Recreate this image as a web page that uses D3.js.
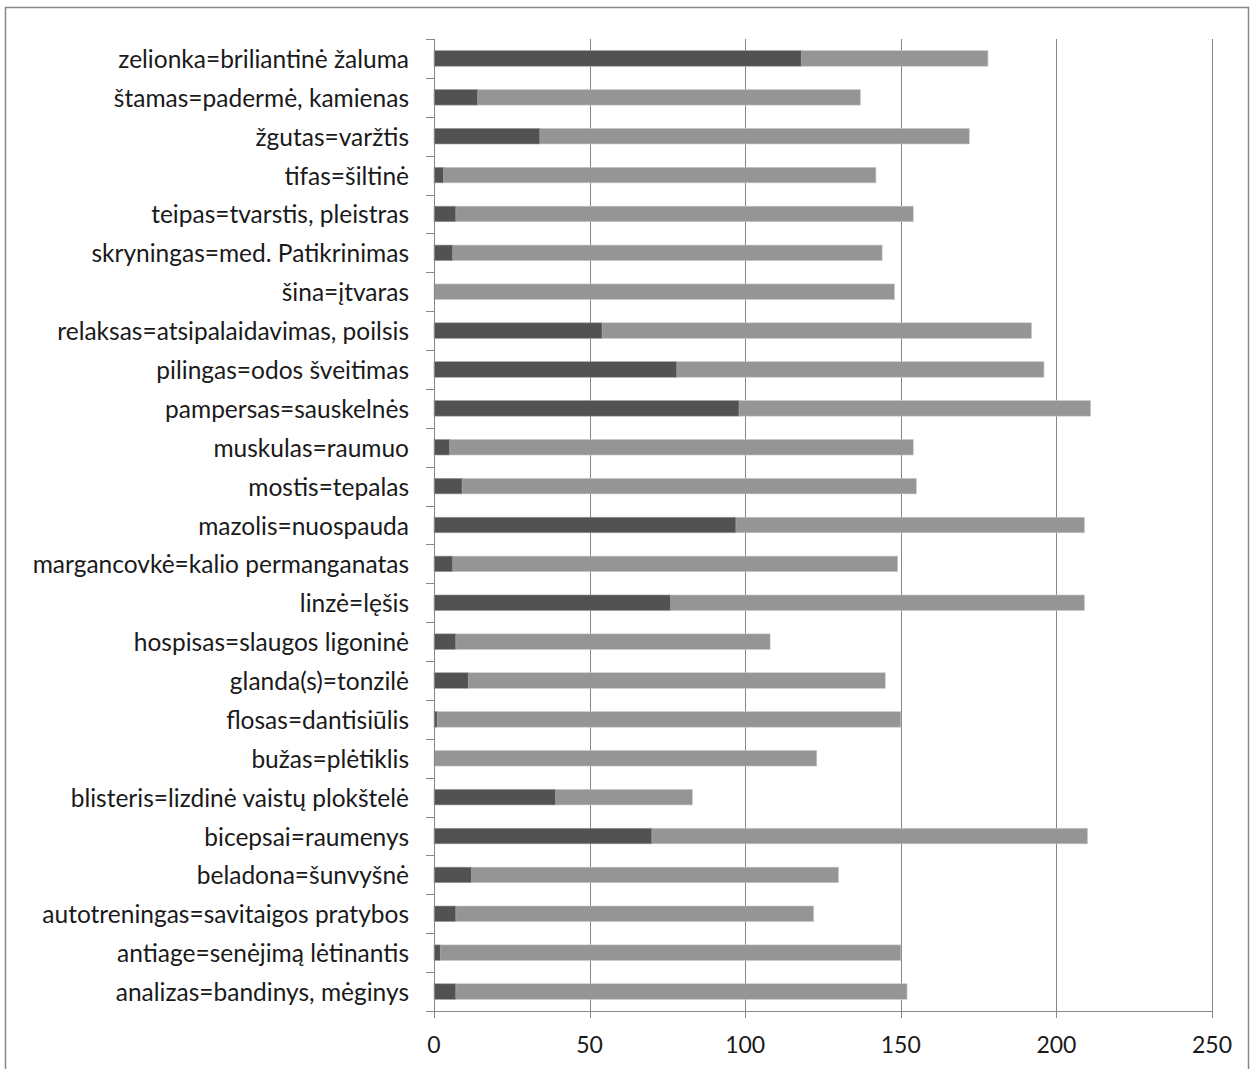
<!DOCTYPE html>
<html><head><meta charset="utf-8">
<script src="https://cdn.jsdelivr.net/npm/d3@7"></script>
<style>
html,body{margin:0;padding:0;background:#fff;}
svg{display:block;}
text{font-family:Lato, "Open Sans", sans-serif;fill:#1a1a1a;}
</style></head>
<body>
<svg id="chart" width="1255" height="1069"></svg>
<script>
const categories = [
  "zelionka=briliantinė žaluma",
  "štamas=padermė, kamienas",
  "žgutas=varžtis",
  "tifas=šiltinė",
  "teipas=tvarstis, pleistras",
  "skryningas=med. Patikrinimas",
  "šina=įtvaras",
  "relaksas=atsipalaidavimas, poilsis",
  "pilingas=odos šveitimas",
  "pampersas=sauskelnės",
  "muskulas=raumuo",
  "mostis=tepalas",
  "mazolis=nuospauda",
  "margancovkė=kalio permanganatas",
  "linzė=lęšis",
  "hospisas=slaugos ligoninė",
  "glanda(s)=tonzilė",
  "flosas=dantisiūlis",
  "bužas=plėtiklis",
  "blisteris=lizdinė vaistų plokštelė",
  "bicepsai=raumenys",
  "beladona=šunvyšnė",
  "autotreningas=savitaigos pratybos",
  "antiage=senėjimą lėtinantis",
  "analizas=bandinys, mėginys"
];
const darkValues  = [118, 14, 34, 3, 7, 6, 0, 54, 78, 98, 5, 9, 97, 6, 76, 7, 11, 1, 0, 39, 70, 12, 7, 2, 7];
const lightValues = [60, 123, 138, 139, 147, 138, 148, 138, 118, 113, 149, 146, 112, 143, 133, 101, 134, 149, 123, 44, 140, 118, 115, 148, 145];
const xTicks = [0, 50, 100, 150, 200, 250];

const svg = d3.select("#chart");
const margin = {left: 434, right: 1212, top: 39, bottom: 1011};

// outer frame
svg.append("rect").attr("x", 5.5).attr("y", 7.5).attr("width", 1243).attr("height", 1080)
  .attr("fill", "none").attr("stroke", "#868686").attr("stroke-width", 1.5);

const x = d3.scaleLinear().domain([0, 250]).range([margin.left, margin.right]);
const y = d3.scaleBand().domain(categories).range([margin.top, margin.bottom]).paddingInner(0.6).paddingOuter(0.3);
const yStep = d3.scaleBand().domain(categories).range([margin.top, margin.bottom]);

// gridlines
svg.append("g").selectAll("line").data(xTicks.filter(d => d > 0)).join("line")
  .attr("x1", d => Math.round(x(d)) + 0.5).attr("x2", d => Math.round(x(d)) + 0.5)
  .attr("y1", margin.top).attr("y2", margin.bottom)
  .attr("stroke", "#868686").attr("stroke-width", 1);

// bars
const rows = categories.map((c, i) => ({c, d: darkValues[i], l: lightValues[i]}));
const g = svg.append("g");
g.selectAll("rect.light").data(rows).join("rect").attr("class", "light")
  .attr("x", d => x(d.d)).attr("width", d => x(d.d + d.l) - x(d.d))
  .attr("y", d => y(d.c)).attr("height", y.bandwidth())
  .attr("fill", "#959595").attr("stroke", "#c8c8c8").attr("stroke-width", 0.6);
g.selectAll("rect.dark").data(rows.filter(r => r.d > 0)).join("rect").attr("class", "dark")
  .attr("x", x(0)).attr("width", d => x(d.d) - x(0))
  .attr("y", d => y(d.c)).attr("height", y.bandwidth())
  .attr("fill", "#525252").attr("stroke", "#9a9a9a").attr("stroke-width", 0.6);

// y axis
const yAxisG = svg.append("g");
yAxisG.append("line").attr("x1", x(0) + 0.5).attr("x2", x(0) + 0.5)
  .attr("y1", margin.top).attr("y2", margin.bottom).attr("stroke", "#868686");
const bounds = categories.map(c => yStep(c)).concat([margin.bottom]);
yAxisG.selectAll("line.tk").data(bounds).join("line").attr("class", "tk")
  .attr("x1", x(0) - 8).attr("x2", x(0))
  .attr("y1", d => Math.round(d) + 0.5).attr("y2", d => Math.round(d) + 0.5)
  .attr("stroke", "#868686");
yAxisG.selectAll("text").data(categories).join("text")
  .attr("x", 409).attr("y", d => yStep(d) + yStep.bandwidth() / 2)
  .attr("text-anchor", "end").attr("dominant-baseline", "central")
  .attr("font-size", 24.5).text(d => d);

// x axis
const xAxisG = svg.append("g");
xAxisG.append("line").attr("x1", margin.left).attr("x2", margin.right)
  .attr("y1", margin.bottom + 0.5).attr("y2", margin.bottom + 0.5).attr("stroke", "#868686");
xAxisG.selectAll("line.tk").data(xTicks).join("line").attr("class", "tk")
  .attr("x1", d => Math.round(x(d)) + 0.5).attr("x2", d => Math.round(x(d)) + 0.5)
  .attr("y1", margin.bottom - 7).attr("y2", margin.bottom + 7).attr("stroke", "#868686");
xAxisG.selectAll("text").data(xTicks).join("text")
  .attr("x", d => x(d)).attr("y", 1044)
  .attr("text-anchor", "middle").attr("dominant-baseline", "central")
  .attr("font-size", 23).text(d => d);
</script>
</body></html>
